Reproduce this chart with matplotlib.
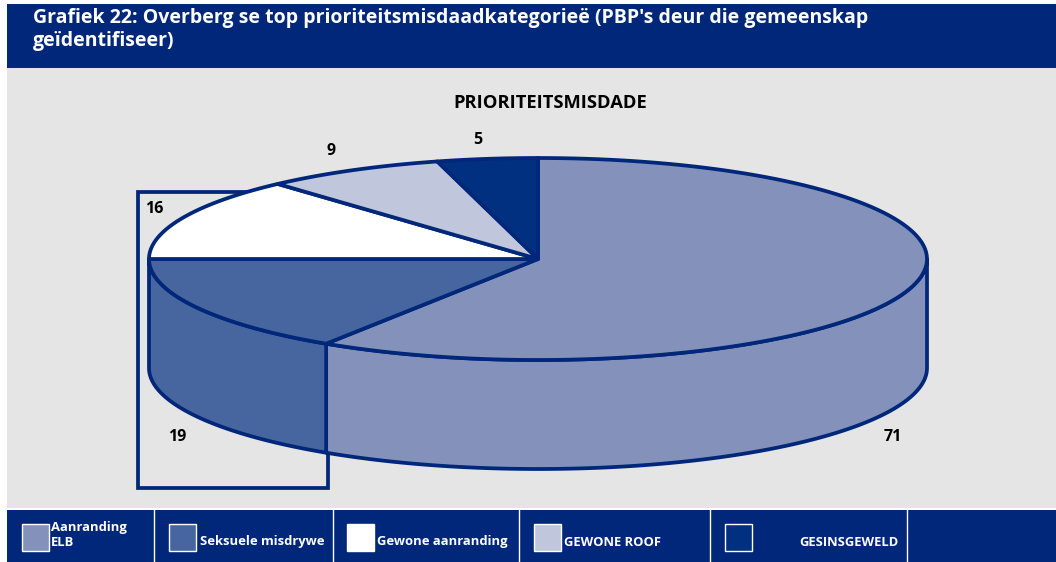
import numpy as np
import matplotlib
matplotlib.use("Agg")
import matplotlib.pyplot as plt
from matplotlib.patches import Polygon, Rectangle

title = "Grafiek 22: Overberg se top prioriteitsmisdaadkategorieë (PBP's deur die gemeenskap\ngeïdentifiseer)"
chart_title = "PRIORITEITSMISDADE"
categories = ["Aanranding\nELB", "Seksuele misdrywe", "Gewone aanranding", "GEWONE ROOF", "GESINSGEWELD"]
values = [71, 19, 16, 9, 5]
colors = ["#8492BB", "#47669F", "#FFFFFF", "#C0C6DC", "#00307F"]

NAVY = "#00277A"
plt.rcParams["font.family"] = ["Open Sans", "DejaVu Sans"]

fig = plt.figure(figsize=(10.56, 5.62), dpi=100)
ax = fig.add_axes([0, 0, 1, 1])
ax.set_xlim(0, 1056)
ax.set_ylim(562, 0)
ax.axis("off")

# header, plot area, legend band
ax.add_patch(Rectangle((7, 4), 1049, 64, fc=NAVY, ec="none"))
ax.add_patch(Rectangle((7, 68), 1049, 440, fc="#E5E5E5", ec="none"))
ax.add_patch(Rectangle((7, 510), 1049, 52, fc=NAVY, ec="none"))
ax.text(33, 29.5, title, color="white", fontsize=14, fontweight="bold", va="center", linespacing=1.24)
ax.text(550, 103, chart_title, color="black", fontsize=13.2, fontweight="bold", ha="center", va="center")

# odd box behind the pie
ax.add_patch(Rectangle((137.5, 191.5), 190, 296, fc="none", ec=NAVY, lw=2.7, zorder=2))

cx, cy, rx, ry, depth = 538, 259, 389, 101, 109
lw = 2.7


def rim(a0, a1, dy=0):
    t = np.radians(np.linspace(a0, a1, 120))
    return np.column_stack([cx + rx * np.cos(t), cy + dy - ry * np.sin(t)])


# slices run clockwise from the top
edges = 90 - np.cumsum([0] + values) * 360 / sum(values)
for i in range(len(values)):
    a0, a1 = edges[i], edges[i + 1]
    # only the front half has a visible side
    lo, hi = max(a1, -180), min(a0, 0)
    if lo < hi:
        top = rim(hi, lo)
        bot = rim(lo, hi, depth)
        ax.add_patch(Polygon(np.vstack([top, bot]), fc=colors[i], ec=NAVY, lw=lw, zorder=3, joinstyle="round"))
for i in range(len(values)):
    pts = np.vstack([[[cx, cy]], rim(edges[i], edges[i + 1])])
    ax.add_patch(Polygon(pts, fc=colors[i], ec=NAVY, lw=lw, zorder=4, joinstyle="round"))

label_pos = [(893, 437), (177, 437), (154, 209), (331, 151), (478, 140)]
for v, (x, y) in zip(values, label_pos):
    ax.text(x, y, str(v), color="black", fontsize=11.5, fontweight="bold", ha="center", va="center", zorder=5)

# legend
for x in [154, 333, 519, 710, 907]:
    ax.plot([x, x], [510, 562], color="white", lw=1, zorder=5)
swatch_x = [22, 169, 347, 534, 725]
text_x = [51, 200, 377, 564, 799]
text_y = [535, 542, 542, 542, 542]
for i in range(len(categories)):
    ax.add_patch(Rectangle((swatch_x[i], 524), 27, 27, fc=colors[i], ec="white", lw=1, zorder=5))
    ax.text(text_x[i], text_y[i], categories[i], color="white", fontsize=9.4, fontweight="bold",
            va="center", linespacing=1.15, zorder=5)

fig.savefig("out.png", dpi=100)
